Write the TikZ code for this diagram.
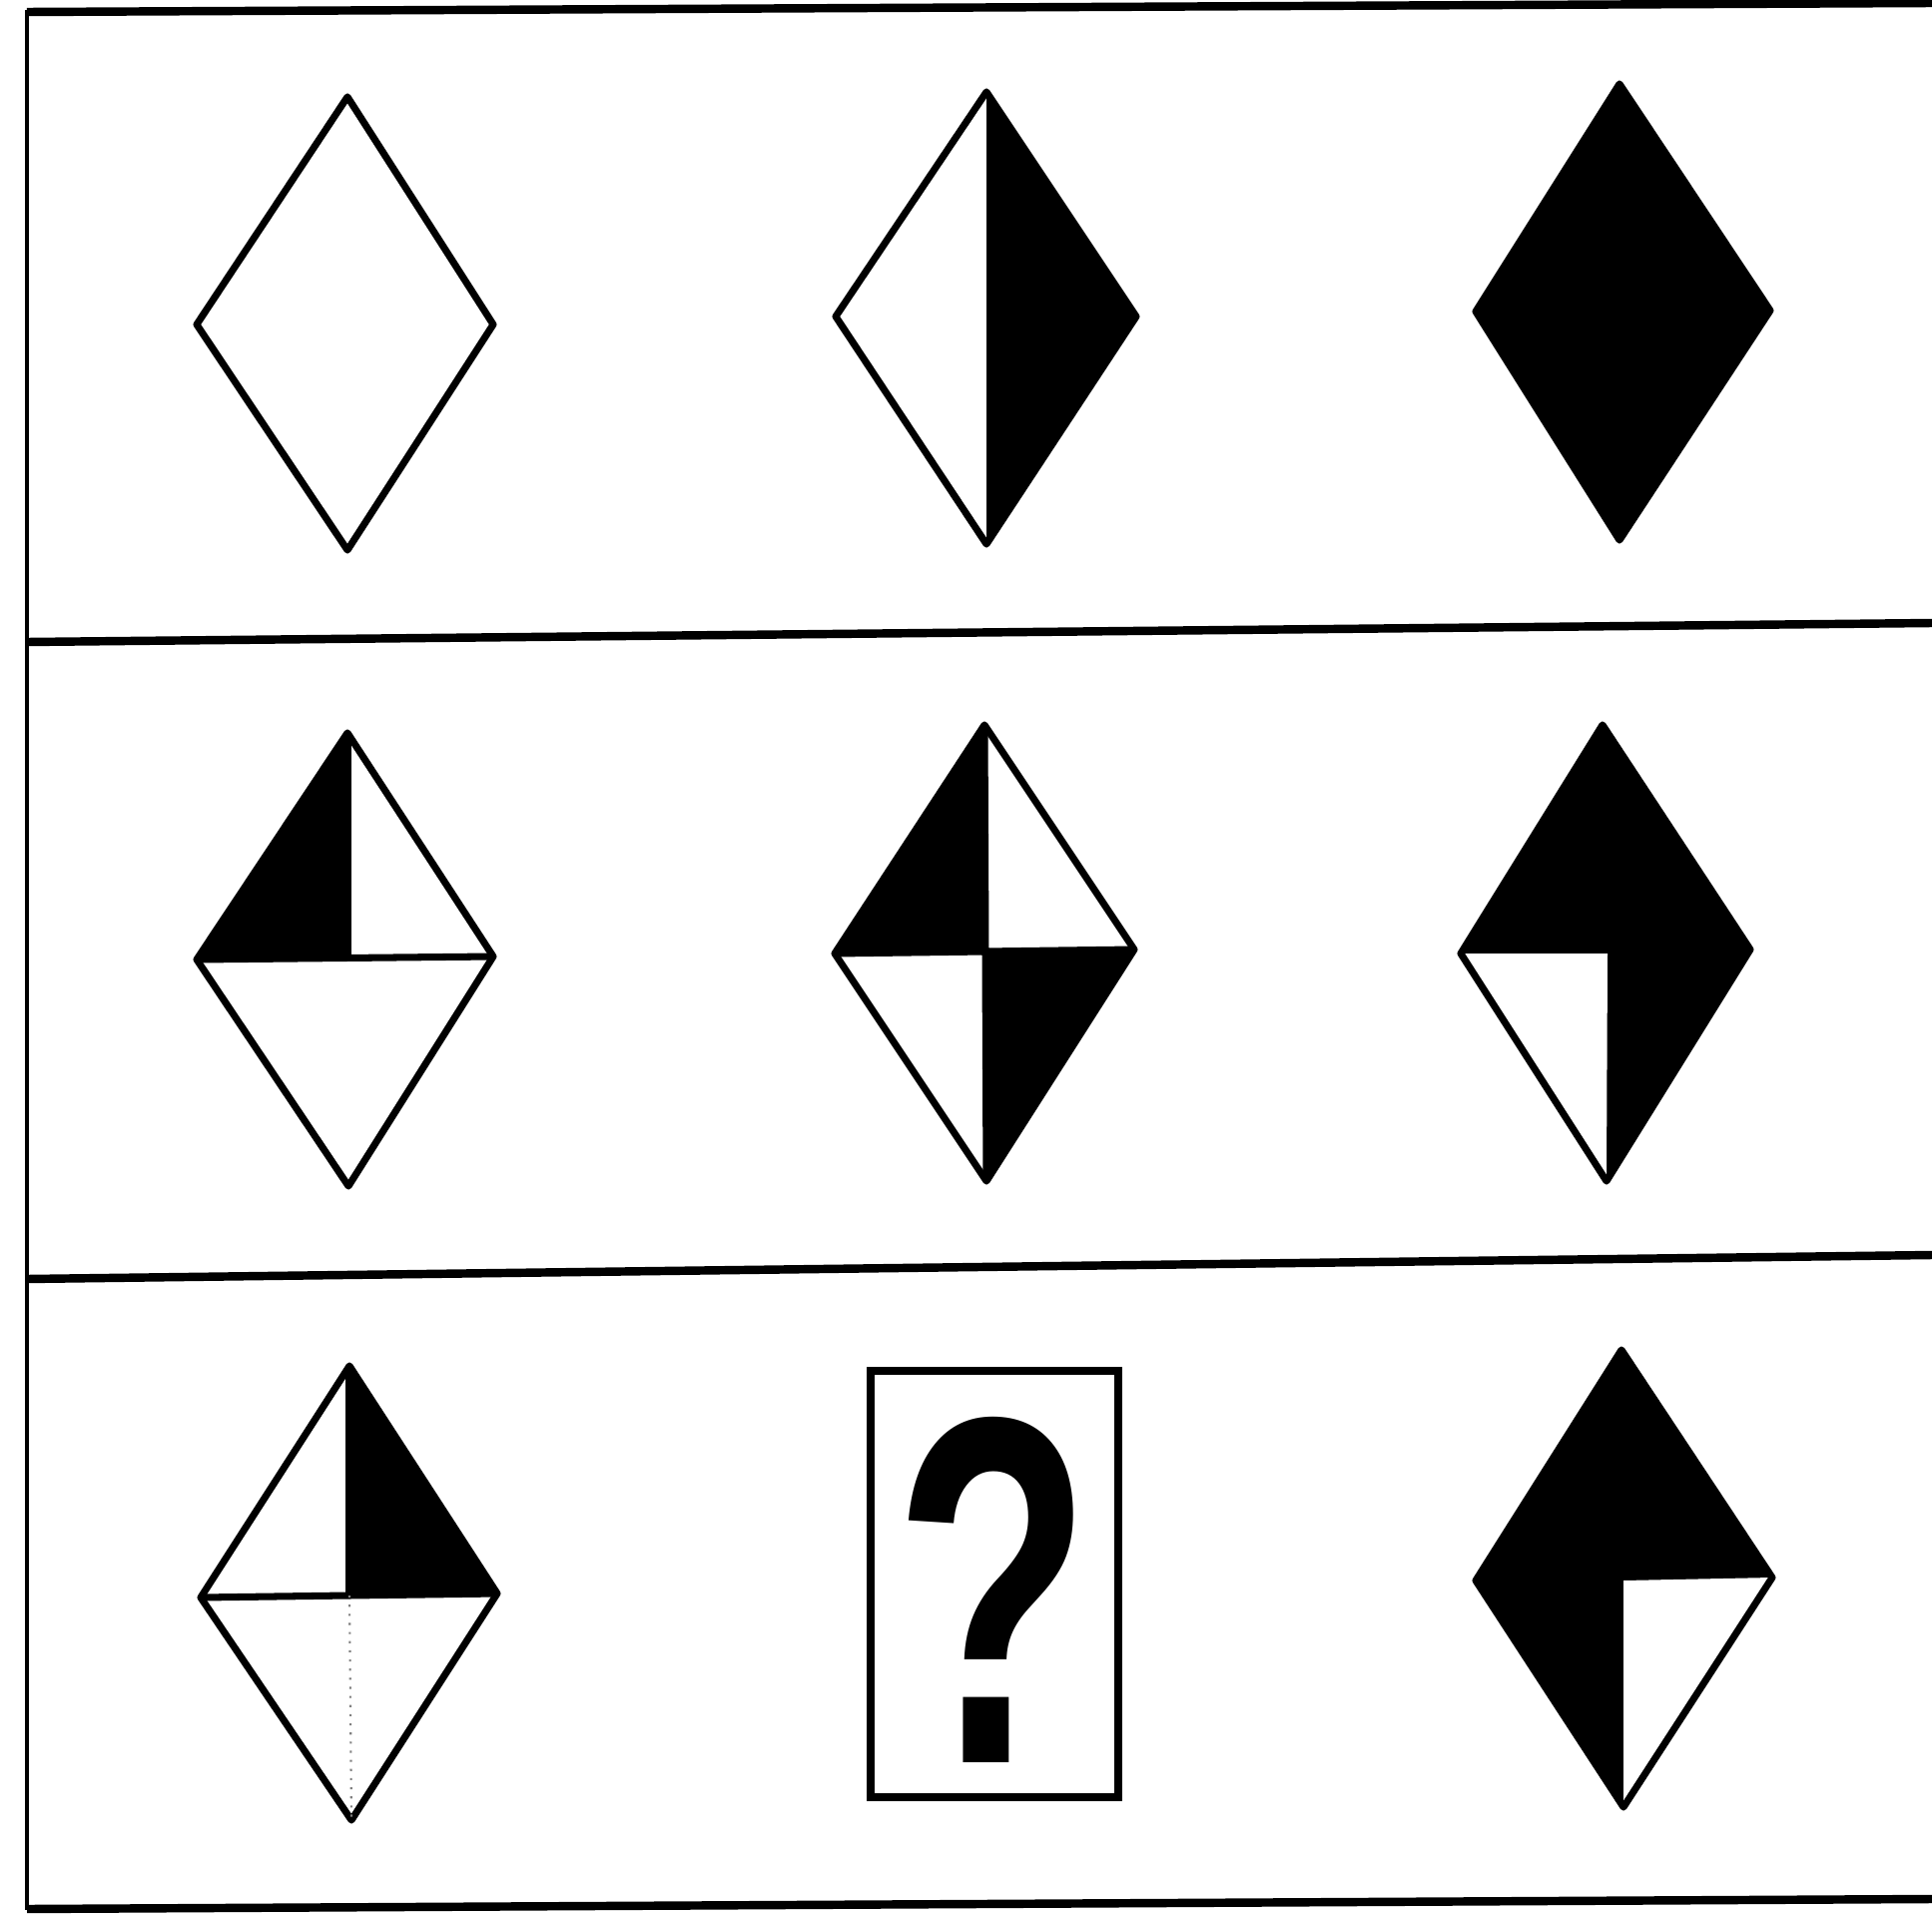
\documentclass[tikz,border=0pt]{standalone}
\usepackage{fontspec}
\newfontfamily\qfont{Liberation Sans}
\begin{document}
\begin{tikzpicture}[x=0.01cm,y=-0.01cm,
  frame/.style={line width=2.4pt, line cap=butt},
  dia/.style={line width=2pt, line join=round},
  blk/.style={fill=black},
  wht/.style={fill=white}]
\useasboundingbox (0,0) rectangle (1935,1918);
\fill[white] (0,0) rectangle (1935,1918);
% frame
\draw[line width=1.4pt] (27,10) -- (27,1913);
\draw[frame] (27,12) -- (1935,3);
\draw[frame] (27,643) -- (1935,624);
\draw[frame] (27,1281) -- (1935,1257);
\draw[frame] (27,1912) -- (1935,1902);
% row 1
\draw[dia] (348,97) -- (494,325) -- (348,551) -- (197,325) -- cycle;
\fill[blk] (988,92) -- (1138,317) -- (988,545) -- cycle;
\draw[dia] (988,92) -- (1138,317) -- (988,545) -- (837,317) -- cycle;
\filldraw[dia,blk] (1622,84) -- (1773,311) -- (1622,541) -- (1478,312) -- cycle;
% row 2
\fill[blk] (348,734) -- (348,960) -- (197,961) -- cycle;
\draw[dia] (348,734) -- (494,958) -- (349,1188) -- (197,961) -- cycle;
\draw[dia] (348,734) -- (348,960);
\draw[dia] (197,961) -- (494,958);
\fill[blk] (986,726) -- (987,953) -- (836,955) -- cycle;
\fill[blk] (987,953) -- (1136,951) -- (988,1183) -- cycle;
\draw[dia] (986,726) -- (1136,951) -- (988,1183) -- (836,955) -- cycle;
\draw[dia] (986,726) -- (988,1183);
\draw[dia] (836,955) -- (1136,951);
\fill[blk] (1605,726) -- (1753,951) -- (1609,1183) -- (1463,955) -- cycle;
\fill[wht] (1463,955) -- (1610,955) -- (1609,1183) -- cycle;
\draw[dia] (1605,726) -- (1753,951) -- (1609,1183) -- (1463,955) -- cycle;
% row 3
\fill[blk] (350,1368) -- (498,1596) -- (350,1598) -- cycle;
\draw[dia] (350,1368) -- (498,1596) -- (352,1823) -- (201,1600) -- cycle;
\draw[dia] (350,1368) -- (350,1598);
\draw[dia] (201,1600) -- (498,1596);
\draw[gray, line width=0.6pt, dotted] (350,1598) -- (352,1823);
\draw[line width=2.2pt] (872,1373) rectangle (1120,1800);
\node[inner sep=0pt, xscale=0.655] (q) at (995,1592) {\qfont\bfseries\fontsize{141}{141}\selectfont ?};
\fill[blk] (1624,1352) -- (1775,1580) -- (1626,1810) -- (1478,1583) -- cycle;
\fill[wht] (1626,1583) -- (1775,1580) -- (1626,1810) -- cycle;
\draw[dia] (1624,1352) -- (1775,1580) -- (1626,1810) -- (1478,1583) -- cycle;
\end{tikzpicture}
\end{document}
